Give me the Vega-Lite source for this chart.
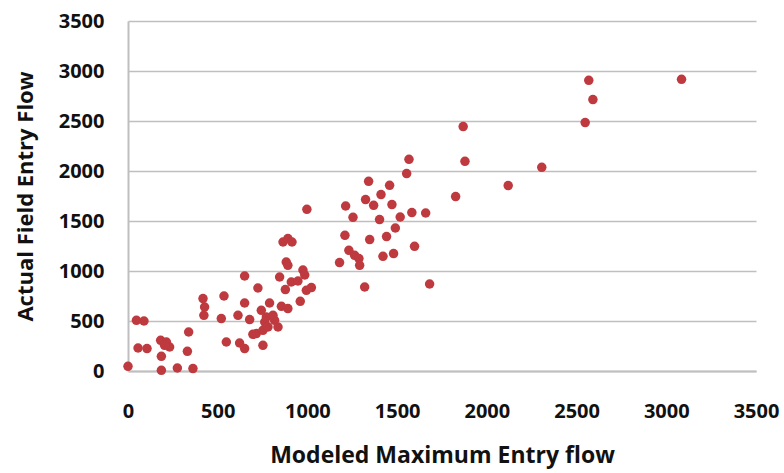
{
  "$schema": "https://vega.github.io/schema/vega-lite/v6.json",
  "width": 628,
  "height": 350,
  "autosize": "none",
  "padding": {"left": 128, "top": 21, "right": 28, "bottom": 102},
  "background": "white",
  "config": {"view": {"stroke": null}, "font": "Open Sans"},
  "data": {"values": [
    {"m": 0, "a": 47}, {"m": 47, "a": 507}, {"m": 89, "a": 500}, {"m": 56, "a": 230}, {"m": 106, "a": 224},
    {"m": 186, "a": 7}, {"m": 275, "a": 30}, {"m": 362, "a": 24}, {"m": 182, "a": 307}, {"m": 214, "a": 290},
    {"m": 232, "a": 240}, {"m": 186, "a": 147}, {"m": 204, "a": 257}, {"m": 331, "a": 197}, {"m": 338, "a": 390},
    {"m": 418, "a": 724}, {"m": 427, "a": 640}, {"m": 423, "a": 557}, {"m": 535, "a": 750}, {"m": 520, "a": 524},
    {"m": 548, "a": 290}, {"m": 613, "a": 557}, {"m": 650, "a": 680}, {"m": 678, "a": 514}, {"m": 622, "a": 280},
    {"m": 650, "a": 224}, {"m": 696, "a": 367}, {"m": 724, "a": 830}, {"m": 650, "a": 950}, {"m": 715, "a": 374},
    {"m": 752, "a": 257}, {"m": 752, "a": 407}, {"m": 780, "a": 440}, {"m": 836, "a": 440}, {"m": 762, "a": 490},
    {"m": 817, "a": 507}, {"m": 771, "a": 540}, {"m": 808, "a": 557}, {"m": 743, "a": 607}, {"m": 789, "a": 680},
    {"m": 855, "a": 647}, {"m": 891, "a": 624}, {"m": 960, "a": 697}, {"m": 877, "a": 814}, {"m": 994, "a": 807},
    {"m": 1022, "a": 834}, {"m": 910, "a": 890}, {"m": 947, "a": 900}, {"m": 845, "a": 940}, {"m": 975, "a": 1010},
    {"m": 985, "a": 960}, {"m": 882, "a": 1090}, {"m": 891, "a": 1057}, {"m": 864, "a": 1290}, {"m": 891, "a": 1324},
    {"m": 914, "a": 1290}, {"m": 997, "a": 1617}, {"m": 1179, "a": 1084}, {"m": 1209, "a": 1357}, {"m": 1231, "a": 1207},
    {"m": 1263, "a": 1157}, {"m": 1287, "a": 1124}, {"m": 1291, "a": 1057}, {"m": 1319, "a": 840}, {"m": 1347, "a": 1314},
    {"m": 1441, "a": 1344}, {"m": 1421, "a": 1147}, {"m": 1480, "a": 1174}, {"m": 1597, "a": 1247}, {"m": 1490, "a": 1430},
    {"m": 1254, "a": 1537}, {"m": 1402, "a": 1514}, {"m": 1517, "a": 1540}, {"m": 1582, "a": 1584}, {"m": 1213, "a": 1650},
    {"m": 1324, "a": 1714}, {"m": 1369, "a": 1657}, {"m": 1410, "a": 1764}, {"m": 1471, "a": 1664}, {"m": 1341, "a": 1897},
    {"m": 1458, "a": 1857}, {"m": 1553, "a": 1974}, {"m": 1566, "a": 2117}, {"m": 1659, "a": 1580}, {"m": 1681, "a": 870},
    {"m": 1826, "a": 1744}, {"m": 1868, "a": 2444}, {"m": 1878, "a": 2097}, {"m": 2119, "a": 1854}, {"m": 2306, "a": 2037},
    {"m": 2548, "a": 2484}, {"m": 2568, "a": 2907}, {"m": 2591, "a": 2714}, {"m": 3085, "a": 2917}
  ]},
  "mark": {"type": "circle", "size": 90, "color": "#BE3A3F", "opacity": 1},
  "encoding": {
    "x": {
      "field": "m", "type": "quantitative",
      "scale": {"domain": [0, 3500], "nice": false, "zero": true},
      "axis": {
        "title": "Modeled Maximum Entry flow",
        "values": [0, 500, 1000, 1500, 2000, 2500, 3000, 3500], "format": "d",
        "grid": false, "domain": true, "domainColor": "#BFBFBF", "domainWidth": 2,
        "ticks": false, "labelPadding": 30, "labelFontSize": 20, "labelFont": "Open Sans",
        "labelFontWeight": "bold", "labelColor": "#111111", "labelFlush": false,
        "titleFontSize": 23, "titleFont": "Open Sans", "titleFontWeight": "bold", "titleColor": "#111111",
        "titleY": 73
      }
    },
    "y": {
      "field": "a", "type": "quantitative",
      "scale": {"domain": [0, 3500], "nice": false},
      "axis": {
        "title": "Actual Field Entry Flow",
        "values": [0, 500, 1000, 1500, 2000, 2500, 3000, 3500], "format": "d",
        "grid": true, "gridColor": "#BFBFBF", "gridWidth": 1.5,
        "domain": true, "domainColor": "#BFBFBF", "domainWidth": 2,
        "ticks": false, "labelPadding": 24, "labelFontSize": 20, "labelFont": "Open Sans",
        "labelFontWeight": "bold", "labelColor": "#111111",
        "titleFontSize": 22, "titleFont": "Open Sans", "titleFontWeight": "bold", "titleColor": "#111111",
        "titleX": -103, "titleY": 175, "titleBaseline": "middle", "titleAlign": "center"
      }
    }
  }
}
